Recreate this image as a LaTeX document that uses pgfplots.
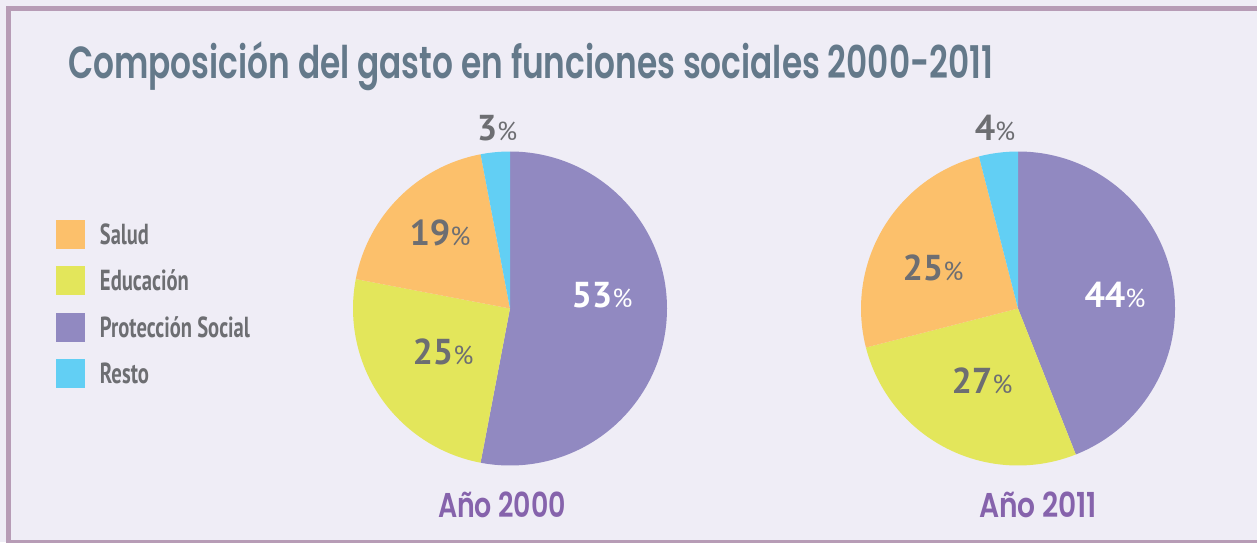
\documentclass[border=0pt]{standalone}
\usepackage{pgfplots}
\pgfplotsset{compat=1.18}
\usepackage{graphicx}
\usepackage{fontspec}
\setmainfont{PT Sans}
\newfontfamily\titlefont{Poppins SemiBold}
\definecolor{bgc}{HTML}{EFEDF6}
\definecolor{frame}{HTML}{B79CB6}
\definecolor{titlec}{HTML}{64798A}
\definecolor{capc}{HTML}{8663AC}
\definecolor{txt}{HTML}{6D6E72}
\definecolor{salud}{HTML}{FCC06B}
\definecolor{edu}{HTML}{E3E65B}
\definecolor{prot}{HTML}{9189C1}
\definecolor{resto}{HTML}{62CFF4}
% slice: colour, cumulative percent before, percent
\newcommand{\slice}[3]{%
  \fill[#1] (axis cs:0,0) -- ++({90-3.6*#2}:157pt)
    arc[start angle={90-3.6*#2}, end angle={90-3.6*(#2+#3)}, radius=157pt] -- cycle;}
\newcommand{\pctlab}[4]{% x, y(baseline, image), number, colour
  \node[anchor=base, inner sep=0pt, text=#4] at (#1,{542-#2})
    {\fontsize{36}{36}\selectfont\bfseries #3{\fontsize{26}{26}\selectfont\mdseries\%}};}
\pgfplotsset{
  pie/.style={width=314pt, height=314pt, scale only axis,
    xmin=-1, xmax=1, ymin=-1, ymax=1, hide axis, clip=false, anchor=origin},
  legsq/.style={legend image code/.code={\path[draw=none,##1] (0pt,-14.5pt) rectangle (29pt,14.5pt);}},
}
\begin{document}
\begin{tikzpicture}[x=1pt,y=1pt]
\useasboundingbox (0,0) rectangle (1257,542);
\begin{scope}
\clip (0,0) rectangle (1257,542);
\fill[bgc] (0,0) rectangle (1257,542);
\draw[frame, line width=5pt] (8.5,533.5) rectangle (1275,-0.5);

% Pie 2000
\begin{axis}[pie, at={(510pt,233.5pt)},
  legend style={at={(-0.9459,0.7818)}, anchor=north west, draw=none, fill=none,
    inner sep=0pt, outer sep=0pt, row sep=17.3pt, column sep=15pt,
    font=\fontsize{29}{29}\selectfont\bfseries, text=txt,
    nodes={inner sep=0pt, text height=20pt, text depth=0pt, anchor=west}},
  legend cell align=left]
\slice{prot}{0}{53}
\slice{edu}{53}{25}
\slice{salud}{78}{19}
\slice{resto}{97}{3}
\addlegendimage{legsq, fill=salud}
\addlegendentry{\resizebox{49pt}{\height}{Salud}}
\addlegendimage{legsq, fill=edu}
\addlegendentry{\resizebox{89pt}{\height}{Educación}}
\addlegendimage{legsq, fill=prot}
\addlegendentry{\resizebox{150pt}{\height}{Protección Social}}
\addlegendimage{legsq, fill=resto}
\addlegendentry{\resizebox{49pt}{\height}{Resto}}
\end{axis}

% Pie 2011
\begin{axis}[pie, at={(1018pt,233.5pt)}]
\slice{prot}{0}{44}
\slice{edu}{44}{27}
\slice{salud}{71}{25}
\slice{resto}{96}{4}
\end{axis}

\pctlab{497}{140}{3}{txt}
\pctlab{440}{245}{19}{txt}
\pctlab{602}{307}{53}{white}
\pctlab{443}{364}{25}{txt}
\pctlab{995}{140}{4}{txt}
\pctlab{933}{280}{25}{txt}
\pctlab{1115}{307}{44}{white}
\pctlab{982}{393}{27}{txt}

\node[anchor=base west, inner sep=0pt, text=titlec] at (68,463)
  {\resizebox{925pt}{\height}{\titlefont\fontsize{45}{45}\selectfont Composición del gasto en funciones sociales 2000-2011}};
\node[anchor=base, inner sep=0pt, text=capc] at (502,25)
  {\resizebox{128pt}{\height}{\titlefont\fontsize{34.4}{34.4}\selectfont Año 2000}};
\node[anchor=base, inner sep=0pt, text=capc] at (1038,25)
  {\resizebox{118pt}{\height}{\titlefont\fontsize{34.4}{34.4}\selectfont Año 2011}};
\end{scope}
\end{tikzpicture}
\end{document}
